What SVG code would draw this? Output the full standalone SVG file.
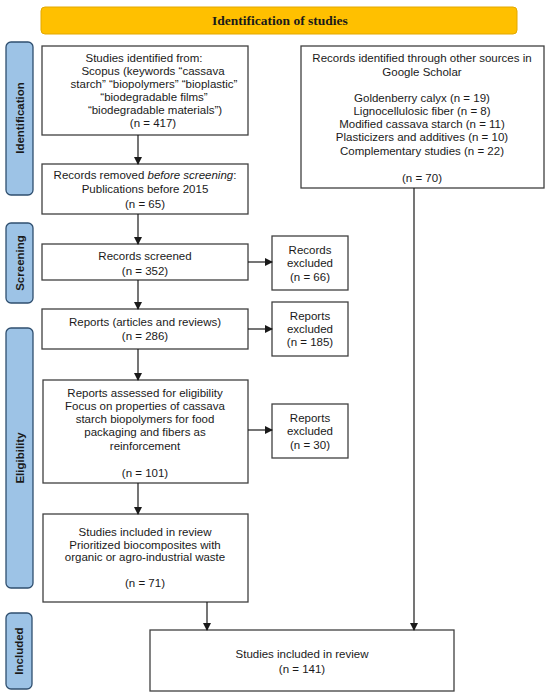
<svg xmlns="http://www.w3.org/2000/svg" width="550" height="695" viewBox="0 0 550 695">
<style>
.box{fill:#fff;stroke:#404040;stroke-width:1.3}
.bar{fill:#9DC3E6;stroke:#2F4F6F;stroke-width:1.3}
.t{font-family:"Liberation Sans",Arial,sans-serif;font-size:11.5px;fill:#1a1a1a;text-anchor:middle}
.lbl{font-family:"Liberation Sans",Arial,sans-serif;font-size:11.5px;font-weight:bold;fill:#1a1a1a;text-anchor:middle}
.c{stroke:#1a1a1a;stroke-width:1.2;fill:none}
</style>
<defs>
<marker id="ah" markerWidth="8" markerHeight="8" refX="7" refY="4" orient="auto" markerUnits="userSpaceOnUse">
<path d="M0,0 L8,4 L0,8 Z" fill="#1a1a1a"/>
</marker>
</defs>
<rect width="550" height="695" fill="#fff"/>
<g id="header">
<rect x="41" y="7" width="476" height="27" rx="4" fill="#FFC000" stroke="#E3A800" stroke-width="1"/>
<text x="280" y="25" font-family="'Liberation Serif','DejaVu Serif',serif" font-size="13.5" font-weight="bold" fill="#1a1a1a" text-anchor="middle">Identification of studies</text>
</g>
<g id="bar-identification">
<rect class="bar" x="6" y="42" width="27" height="153" rx="5"/>
<text class="lbl" transform="translate(23.5,118) rotate(-90)">Identification</text>
</g>
<g id="bar-screening">
<rect class="bar" x="6" y="223" width="27" height="80" rx="5"/>
<text class="lbl" transform="translate(23.5,263) rotate(-90)">Screening</text>
</g>
<g id="bar-eligibility">
<rect class="bar" x="6" y="328" width="27" height="260" rx="5"/>
<text class="lbl" transform="translate(23.5,458) rotate(-90)">Eligibility</text>
</g>
<g id="bar-included">
<rect class="bar" x="6" y="613" width="26" height="76" rx="5"/>
<text class="lbl" transform="translate(23,651) rotate(-90)">Included</text>
</g>
<g id="n-scopus">
<rect class="box" x="42" y="46" width="206" height="89"/>
<text class="t" x="144" y="62">Studies identified from:</text>
<text class="t" x="153" y="75">Scopus (keywords “cassava</text>
<text class="t" x="154" y="88">starch” “biopolymers” “bioplastic”</text>
<text class="t" x="154" y="101">“biodegradable films”</text>
<text class="t" x="155" y="114">“biodegradable materials”)</text>
<text class="t" x="153" y="127">(n = 417)</text>
</g>
<g id="n-removed">
<rect class="box" x="42" y="164" width="206" height="50"/>
<text class="t" x="145" y="179">Records removed <tspan font-style="italic">before screening</tspan>:</text>
<text class="t" x="145" y="193">Publications before 2015</text>
<text class="t" x="145" y="208">(n = 65)</text>
</g>
<g id="n-other">
<rect class="box" x="301" y="46" width="243" height="142"/>
<text class="t" x="422" y="62">Records identified through other sources in</text>
<text class="t" x="422" y="76">Google Scholar</text>
<text class="t" x="422" y="102">Goldenberry calyx (n = 19)</text>
<text class="t" x="422" y="115">Lignocellulosic fiber (n = 8)</text>
<text class="t" x="422" y="128">Modified cassava starch (n = 11)</text>
<text class="t" x="422" y="141">Plasticizers and additives (n = 10)</text>
<text class="t" x="422" y="155">Complementary studies (n = 22)</text>
<text class="t" x="422" y="182">(n = 70)</text>
</g>
<g id="n-screened">
<rect class="box" x="42" y="244" width="206" height="36"/>
<text class="t" x="145" y="260">Records screened</text>
<text class="t" x="145" y="275">(n = 352)</text>
</g>
<g id="n-excl1">
<rect class="box" x="272" y="236" width="76" height="54"/>
<text class="t" x="310" y="254">Records</text>
<text class="t" x="310" y="267">excluded</text>
<text class="t" x="310" y="281">(n = 66)</text>
</g>
<g id="n-reports">
<rect class="box" x="42" y="309" width="206" height="40"/>
<text class="t" x="145" y="326">Reports (articles and reviews)</text>
<text class="t" x="145" y="340">(n = 286)</text>
</g>
<g id="n-excl2">
<rect class="box" x="272" y="302" width="76" height="54"/>
<text class="t" x="310" y="320">Reports</text>
<text class="t" x="310" y="333">excluded</text>
<text class="t" x="310" y="346">(n = 185)</text>
</g>
<g id="n-assessed">
<rect class="box" x="43" y="380" width="205" height="103"/>
<text class="t" x="145" y="397">Reports assessed for eligibility</text>
<text class="t" x="145" y="410">Focus on properties of cassava</text>
<text class="t" x="145" y="423">starch biopolymers for food</text>
<text class="t" x="145" y="436">packaging and fibers as</text>
<text class="t" x="145" y="450">reinforcement</text>
<text class="t" x="145" y="477">(n = 101)</text>
</g>
<g id="n-excl3">
<rect class="box" x="272" y="404" width="76" height="54"/>
<text class="t" x="310" y="422">Reports</text>
<text class="t" x="310" y="435">excluded</text>
<text class="t" x="310" y="449">(n = 30)</text>
</g>
<g id="n-included">
<rect class="box" x="43" y="514" width="205" height="88"/>
<text class="t" x="145" y="536">Studies included in review</text>
<text class="t" x="145" y="549">Prioritized biocomposites with</text>
<text class="t" x="145" y="561">organic or agro-industrial waste</text>
<text class="t" x="145" y="587">(n = 71)</text>
</g>
<g id="n-final">
<rect class="box" x="150" y="630" width="304" height="61"/>
<text class="t" x="302" y="658">Studies included in review</text>
<text class="t" x="302" y="673">(n = 141)</text>
</g>
<g id="connectors">
<line class="c" x1="138" y1="135" x2="138" y2="164" marker-end="url(#ah)"/>
<line class="c" x1="138" y1="214" x2="138" y2="244" marker-end="url(#ah)"/>
<line class="c" x1="138" y1="280" x2="138" y2="309" marker-end="url(#ah)"/>
<line class="c" x1="138" y1="349" x2="138" y2="380" marker-end="url(#ah)"/>
<line class="c" x1="138" y1="483" x2="138" y2="514" marker-end="url(#ah)"/>
<line class="c" x1="248" y1="262" x2="272" y2="262" marker-end="url(#ah)"/>
<line class="c" x1="248" y1="329" x2="272" y2="329" marker-end="url(#ah)"/>
<line class="c" x1="248" y1="430" x2="272" y2="430" marker-end="url(#ah)"/>
<line class="c" x1="207" y1="602" x2="207" y2="630" marker-end="url(#ah)"/>
<line class="c" x1="414" y1="188" x2="414" y2="630" marker-end="url(#ah)"/>
</g>
</svg>
